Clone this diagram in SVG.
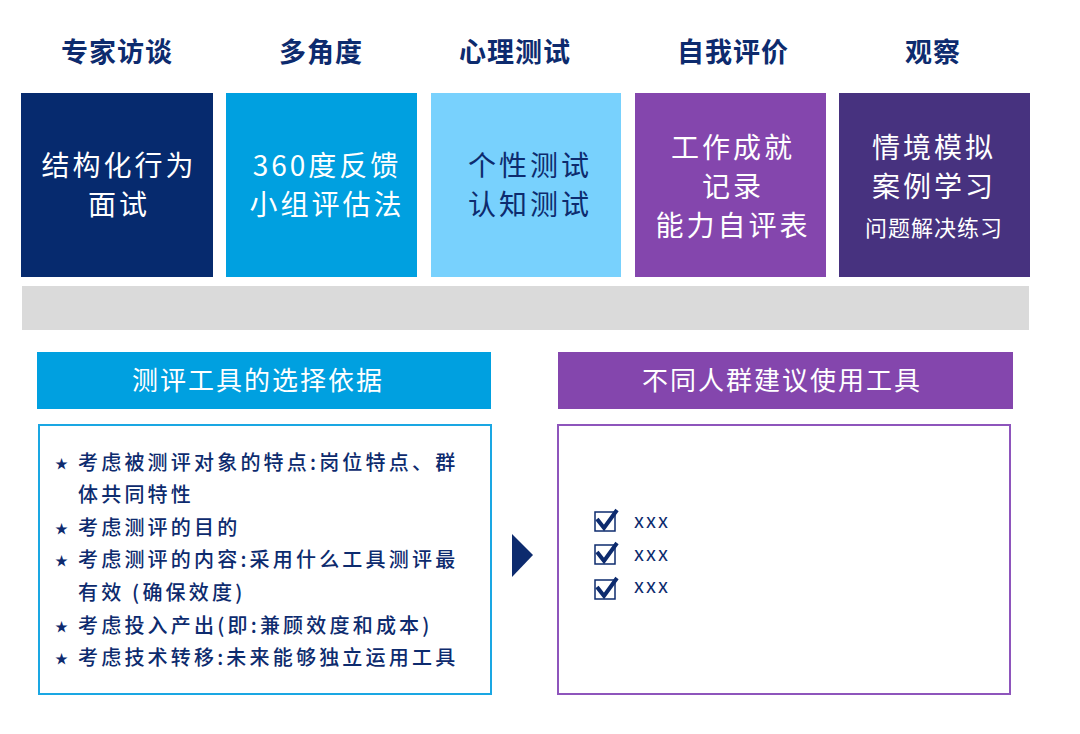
<svg xmlns="http://www.w3.org/2000/svg" width="1080" height="734" viewBox="0 0 1080 734">
<style>
text{font-family:"Noto Sans CJK SC","Noto Sans",sans-serif}
.h{font-size:27px;font-weight:bold;fill:#0D2B6E;text-anchor:middle;letter-spacing:1px}
.c{font-size:28px;text-anchor:middle;fill:#fff;letter-spacing:3px}
.d{fill:#0D2B6E}
.b{font-size:20px;fill:#0D2B6E;letter-spacing:3.2px;font-weight:500}
.s{font-size:13px;fill:#0D2B6E}
.hb{font-size:26px;fill:#fff;text-anchor:middle;letter-spacing:2px}
.cb{fill:none;stroke:#0D2B6E;stroke-width:1.5}
.ck{fill:none;stroke:#0D2B6E;stroke-width:4}
.x{font-size:20px;fill:#0D2B6E;letter-spacing:2px}
</style>
<rect width="1080" height="734" fill="#fff"/>
<g id="col1"><text class="h" x="117" y="62">专家访谈</text><rect x="21" y="93" width="192" height="184" fill="#062A6E"/><text class="c" x="119" y="176">结构化行为</text><text class="c" x="119" y="215">面试</text></g>
<g id="col2"><text class="h" x="321" y="62">多角度</text><rect x="226" y="93" width="191" height="184" fill="#00A0E0"/><text class="c" x="327" y="176">360度反馈</text><text class="c" x="327" y="215">小组评估法</text></g>
<g id="col3"><text class="h" x="515" y="62">心理测试</text><rect x="431" y="93" width="190" height="184" fill="#78D1FD"/><text class="c d" x="530" y="176">个性测试</text><text class="c d" x="530" y="215">认知测试</text></g>
<g id="col4"><text class="h" x="733" y="62">自我评价</text><rect x="635" y="93" width="191" height="184" fill="#8446AD"/><text class="c" x="733" y="158">工作成就</text><text class="c" x="733" y="197">记录</text><text class="c" x="733" y="236">能力自评表</text></g>
<g id="col5"><text class="h" x="933" y="62">观察</text><rect x="839" y="93" width="191" height="184" fill="#47327F"/><text class="c" x="934" y="158">情境模拟</text><text class="c" x="934" y="197">案例学习</text><text class="c" x="934" y="236" style="font-size:22px;letter-spacing:1px">问题解决练习</text></g>
<rect x="22" y="286" width="1007" height="44" fill="#DADADA"/>
<g id="left"><rect x="37" y="352" width="454" height="57" fill="#00A0E0"/><text class="hb" x="258" y="390">测评工具的选择依据</text>
<rect x="39" y="425" width="452" height="269" fill="none" stroke="#1AA7E3" stroke-width="2"/>
<g>
<text class="s" x="55" y="468">★</text><text class="b" x="78" y="470">考虑被测评对象的特点:岗位特点、群</text>
<text class="b" x="78" y="502">体共同特性</text>
<text class="s" x="55" y="533">★</text><text class="b" x="78" y="535">考虑测评的目的</text>
<text class="s" x="55" y="565">★</text><text class="b" x="78" y="567">考虑测评的内容:采用什么工具测评最</text>
<text class="b" x="78" y="600">有效 (确保效度)</text>
<text class="s" x="55" y="631">★</text><text class="b" x="78" y="633">考虑投入产出(即:兼顾效度和成本)</text>
<text class="s" x="55" y="663">★</text><text class="b" x="78" y="665">考虑技术转移:未来能够独立运用工具</text>
</g></g>
<g id="connectors"><polygon points="512,534 533,555 512,577" fill="#0D2B6E"/></g>
<g id="right"><rect x="558" y="352" width="455" height="57" fill="#8446AD"/><text class="hb" x="782" y="390">不同人群建议使用工具</text>
<rect x="558" y="425" width="452" height="269" fill="none" stroke="#8E55BC" stroke-width="2"/>
<rect class="cb" x="595" y="512" width="20" height="19"/><path class="ck" d="M597,519 L604,528 L617,510"/><text class="x" x="634" y="528">xxx</text>
<rect class="cb" x="595" y="545" width="20" height="19"/><path class="ck" d="M597,552 L604,561 L617,543"/><text class="x" x="634" y="561">xxx</text>
<rect class="cb" x="595" y="580" width="20" height="19"/><path class="ck" d="M597,587 L604,596 L617,578"/><text class="x" x="634" y="593">xxx</text>
</g>
</svg>
